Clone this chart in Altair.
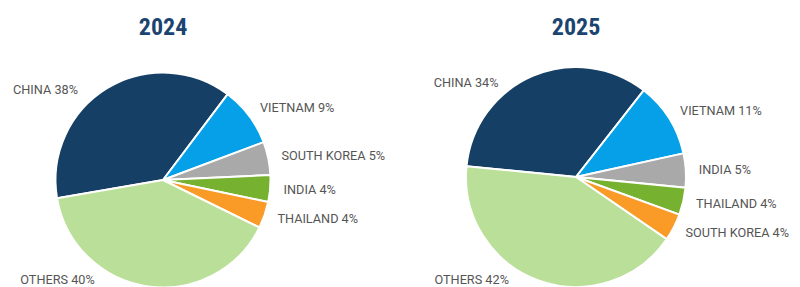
import math
import altair as alt
import pandas as pd

countries_2024 = ["CHINA", "VIETNAM", "SOUTH KOREA", "INDIA", "THAILAND", "OTHERS"]
share_2024 = [38, 9, 5, 4, 4, 40]
countries_2025 = ["CHINA", "VIETNAM", "INDIA", "THAILAND", "SOUTH KOREA", "OTHERS"]
share_2025 = [34, 11, 5, 4, 4, 42]

slice_colors = ["#163f66", "#05a0e8", "#a9a9a9", "#76b12f", "#f99b26", "#badf98"]
LABEL_FONT = "Roboto"
TITLE_FONT = "Liberation Sans Narrow, Roboto Condensed, Roboto"


def pie(year, countries, shares, start_deg, radius, label_r, width, height, left_off):
    df = pd.DataFrame({"country": countries, "share": shares,
                       "idx": list(range(len(countries)))})
    df["label"] = df["country"] + " " + df["share"].astype(str) + "%"
    a0 = math.radians(start_deg)
    tscale = alt.Scale(domain=[0, 100], range=[a0, a0 + 2 * math.pi])
    base = alt.Chart(df).transform_window(
        cum="sum(share)", sort=[alt.SortField("idx", order="ascending")], frame=[None, 0]
    ).transform_calculate(
        start="datum.cum - datum.share", mid="datum.cum - datum.share / 2"
    )
    arcs = base.mark_arc(radius=radius, stroke="white", strokeWidth=2).encode(
        theta=alt.Theta("start:Q", scale=tscale, stack=False),
        theta2="cum:Q",
        color=alt.Color("idx:O", scale=alt.Scale(domain=list(range(6)), range=slice_colors),
                        legend=None),
    )
    txt = dict(font=LABEL_FONT, fontSize=12.7, color="#555555", baseline="middle")
    right = base.transform_filter("datum.idx >= 1 && datum.idx <= 4").mark_text(
        radius=label_r, align="left", **txt
    ).encode(theta=alt.Theta("mid:Q", scale=tscale, stack=False), text="label:N")
    layers = [arcs, right]
    for i, (dx, dy) in left_off.items():
        layers.append(
            base.transform_filter(f"datum.idx == {i}").mark_text(
                radius=label_r, align="right", dx=dx, dy=dy, **txt
            ).encode(theta=alt.Theta("mid:Q", scale=tscale, stack=False), text="label:N")
        )
    return alt.layer(*layers).properties(
        width=width, height=height,
        title=alt.TitleParams(year, fontSize=24, font=TITLE_FONT, fontWeight="bold",
                              color="#1b4470", anchor="middle", offset=22),
    )


T = 60
p1 = pie("2024", countries_2024, share_2024, 37 - 38 * 3.6, 107.5, 121, 326, 2 * (178 - T),
         {0: (-22, 13), 5: (-51, -20)})
p2 = pie("2025", countries_2025, share_2025, 38 - 34 * 3.6, 110, 123, 326, 2 * (175 - T),
         {0: (-29, 19), 5: (-25, -13)})

chart = alt.hconcat(p1, p2, spacing=87, bounds="flush").resolve_scale(
    theta="independent", color="independent"
).properties(
    padding={"left": 0, "top": 16, "right": 0, "bottom": 0},
    background="white",
).configure_view(stroke=None)

chart.save("out.html", embed_options={"renderer": "svg", "actions": False})
